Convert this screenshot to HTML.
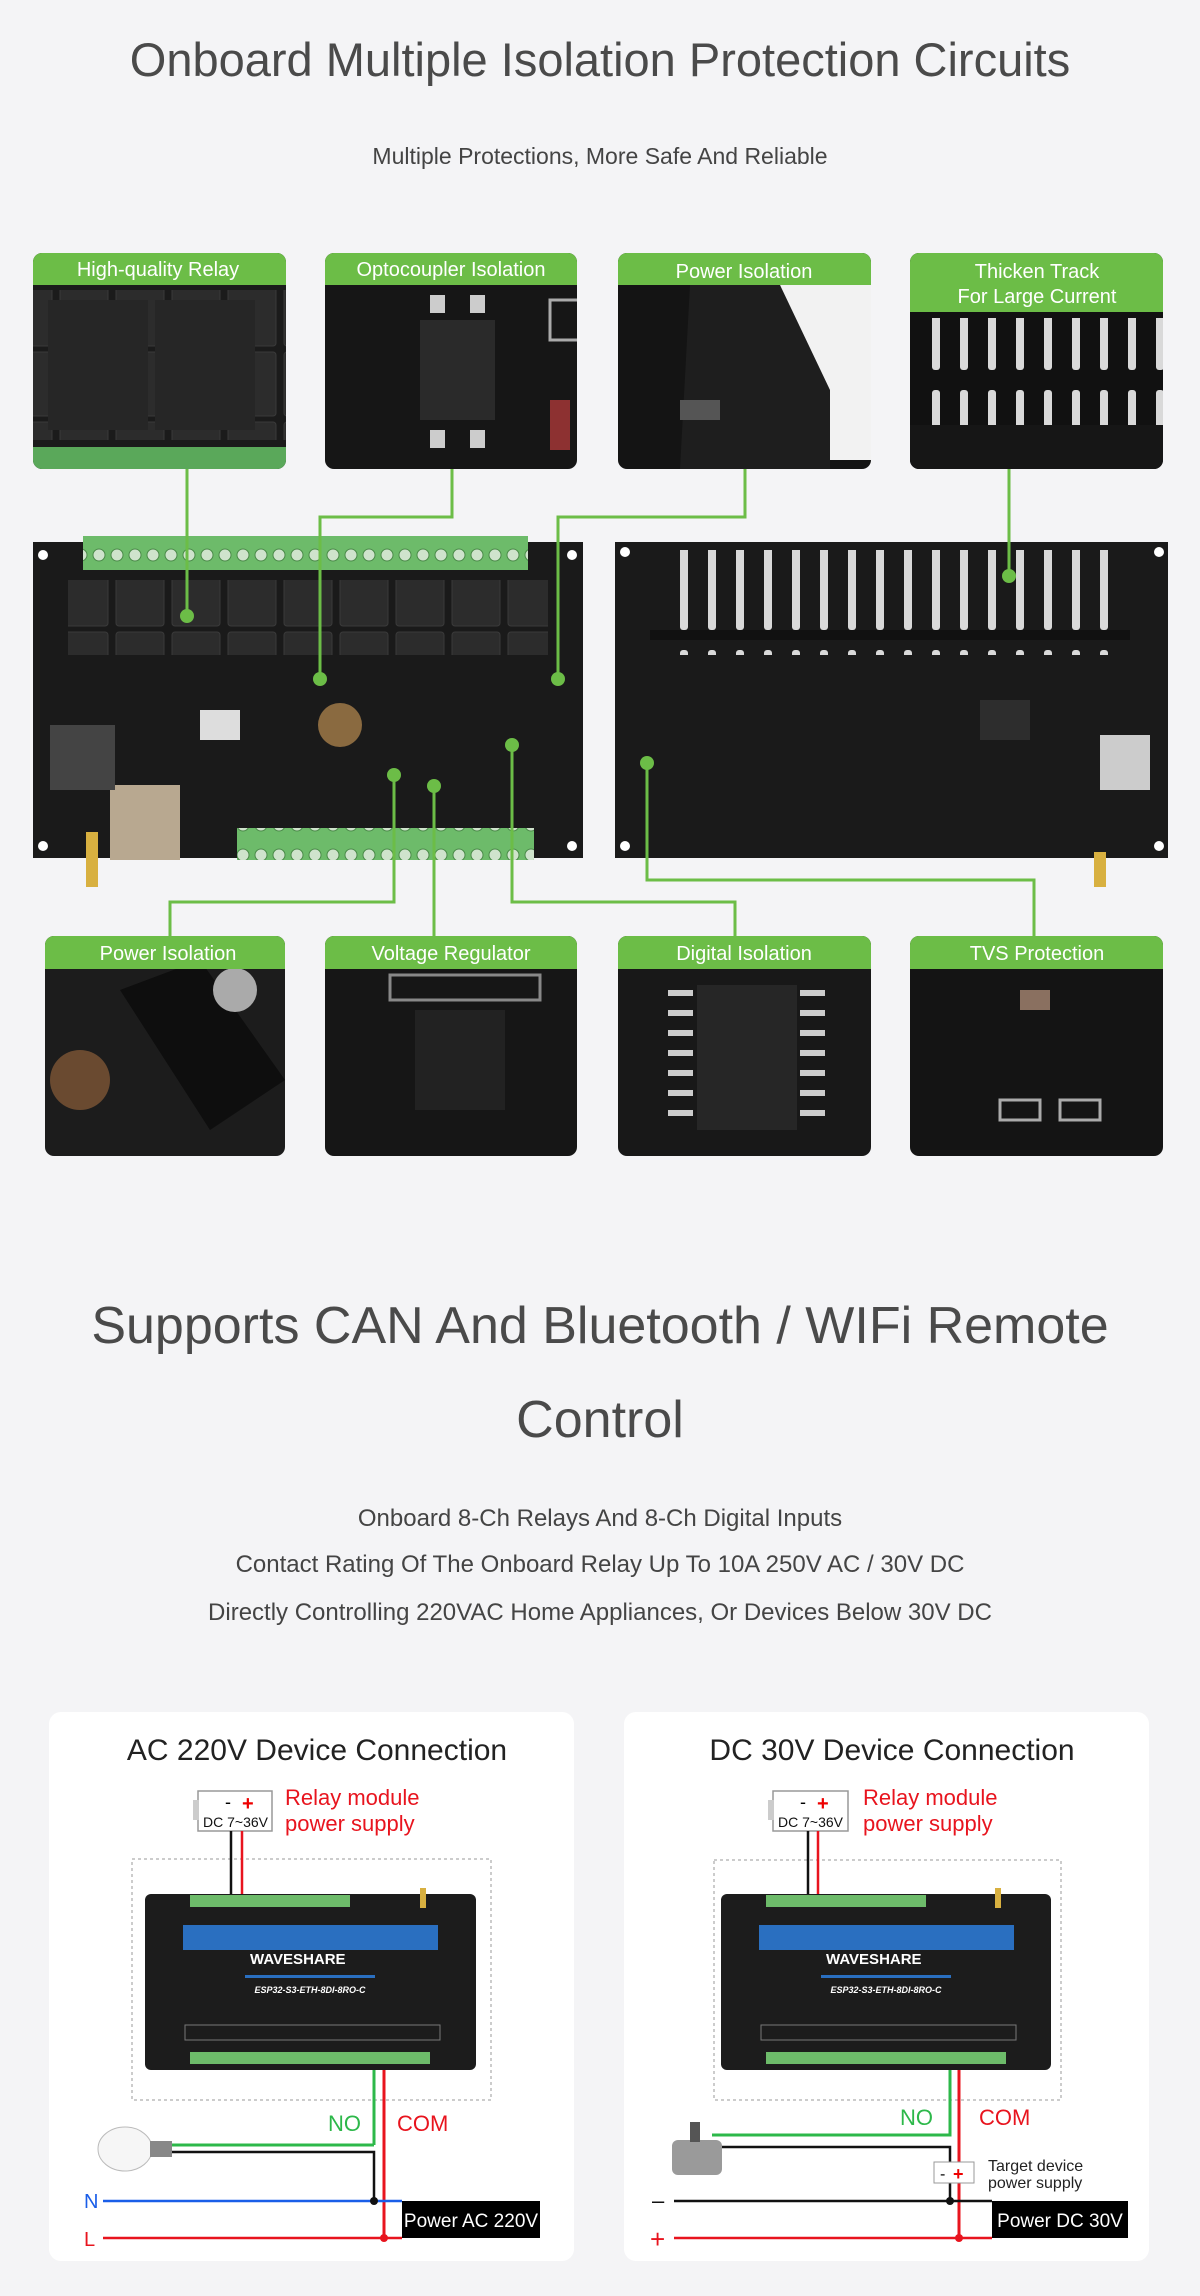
<!DOCTYPE html>
<html><head><meta charset="utf-8">
<style>
html,body{margin:0;padding:0;background:#f4f4f6;}
svg{display:block;}
text{font-family:"Liberation Sans",Arial,sans-serif;}
</style></head><body>
<svg width="1200" height="2296" viewBox="0 0 1200 2296" xmlns="http://www.w3.org/2000/svg">
<defs>
<clipPath id="c1"><rect x="33" y="253" width="253" height="216" rx="9"/></clipPath>
<clipPath id="c2"><rect x="325" y="253" width="252" height="216" rx="9"/></clipPath>
<clipPath id="c3"><rect x="618" y="253" width="253" height="216" rx="9"/></clipPath>
<clipPath id="c4"><rect x="910" y="253" width="253" height="216" rx="9"/></clipPath>
<clipPath id="d1"><rect x="45" y="936" width="240" height="220" rx="9"/></clipPath>
<clipPath id="d2"><rect x="325" y="936" width="252" height="220" rx="9"/></clipPath>
<clipPath id="d3"><rect x="618" y="936" width="253" height="220" rx="9"/></clipPath>
<clipPath id="d4"><rect x="910" y="936" width="253" height="220" rx="9"/></clipPath>
<pattern id="term" width="18" height="30" patternUnits="userSpaceOnUse"><rect width="18" height="30" fill="#6dbb6a"/><circle cx="9" cy="15" r="6" fill="#cfe3cc" stroke="#4a8a48"/></pattern>
<pattern id="track" width="28" height="130" patternUnits="userSpaceOnUse"><rect x="8" y="0" width="8" height="110" rx="3" fill="#d9d9d9"/></pattern>
<pattern id="relay" width="56" height="70" patternUnits="userSpaceOnUse"><rect x="4" y="2" width="48" height="64" rx="3" fill="#2c2c2c" stroke="#3a3a3a"/></pattern>
</defs>

<rect width="1200" height="2296" fill="#f4f4f6"/>

<text x="600" y="76" font-size="47" fill="#4a4a4a" text-anchor="middle">Onboard Multiple Isolation Protection Circuits</text>
<text x="600" y="164" font-size="23" fill="#444" text-anchor="middle">Multiple Protections, More Safe And Reliable</text>

<!-- top photo boxes -->
<g clip-path="url(#c1)"><rect x="33" y="253" width="253" height="216" fill="#1b1b1b"/>
<rect x="33" y="290" width="253" height="150" fill="url(#relay)"/><rect x="48" y="300" width="100" height="130" fill="#262626"/><rect x="155" y="300" width="100" height="130" fill="#262626"/>
<rect x="33" y="447" width="253" height="22" fill="#5aa85a"/></g>
<g clip-path="url(#c2)"><rect x="325" y="253" width="252" height="216" fill="#161616"/>
<rect x="420" y="320" width="75" height="100" fill="#2a2a2a"/><rect x="430" y="295" width="15" height="18" fill="#ccc"/><rect x="470" y="295" width="15" height="18" fill="#ccc"/><rect x="430" y="430" width="15" height="18" fill="#ccc"/><rect x="470" y="430" width="15" height="18" fill="#ccc"/>
<rect x="550" y="300" width="30" height="40" fill="none" stroke="#aaa" stroke-width="3"/><rect x="550" y="400" width="20" height="50" fill="#d44" opacity=".6"/></g>
<g clip-path="url(#c3)"><rect x="618" y="253" width="253" height="216" fill="#141414"/>
<polygon points="780,285 871,285 871,460 820,460" fill="#f2f2f2"/><polygon points="690,285 780,285 830,390 830,469 680,469" fill="#1e1e1e"/><rect x="680" y="400" width="40" height="20" fill="#555"/></g>
<g clip-path="url(#c4)"><rect x="910" y="253" width="253" height="216" fill="#111"/>
<rect x="914" y="318" width="250" height="110" fill="url(#track)"/><rect x="910" y="425" width="253" height="44" fill="#161616"/></g>
<g fill="#6cbd47">
<path d="M42,253 h235 a9,9 0 0 1 9,9 v23 h-253 v-23 a9,9 0 0 1 9,-9z"/>
<path d="M334,253 h234 a9,9 0 0 1 9,9 v23 h-252 v-23 a9,9 0 0 1 9,-9z"/>
<path d="M627,253 h235 a9,9 0 0 1 9,9 v23 h-253 v-23 a9,9 0 0 1 9,-9z"/>
<path d="M919,253 h235 a9,9 0 0 1 9,9 v50 h-253 v-50 a9,9 0 0 1 9,-9z"/>
</g>
<g font-size="20" fill="#fff" text-anchor="middle">
<text x="158" y="276">High-quality Relay</text>
<text x="451" y="276">Optocoupler Isolation</text>
<text x="744" y="278">Power Isolation</text>
<text x="1037" y="278">Thicken Track</text>
<text x="1037" y="303">For Large Current</text>
</g>

<!-- boards -->
<rect x="33" y="542" width="550" height="316" fill="#1a1a1a"/>
<rect x="83" y="536" width="445" height="34" fill="url(#term)"/>
<rect x="68" y="580" width="480" height="75" fill="url(#relay)"/>
<rect x="237" y="828" width="297" height="32" fill="url(#term)"/>
<rect x="110" y="785" width="70" height="75" fill="#b8a890"/>
<rect x="50" y="725" width="65" height="65" fill="#444"/>
<circle cx="340" cy="725" r="22" fill="#8a6a40"/>
<rect x="200" y="710" width="40" height="30" fill="#ddd"/>
<circle cx="43" cy="555" r="5" fill="#fff"/><circle cx="572" cy="555" r="5" fill="#fff"/><circle cx="43" cy="846" r="5" fill="#fff"/><circle cx="572" cy="846" r="5" fill="#fff"/>
<rect x="86" y="832" width="12" height="55" fill="#d8b040"/>

<rect x="615" y="542" width="553" height="316" fill="#1a1a1a"/>
<rect x="660" y="550" width="465" height="105" fill="url(#track)"/>
<rect x="650" y="630" width="480" height="10" fill="#111"/>
<rect x="1100" y="735" width="50" height="55" fill="#ccc"/>
<rect x="980" y="700" width="50" height="40" fill="#2d2d2d"/>
<circle cx="625" cy="552" r="5" fill="#fff"/><circle cx="1159" cy="552" r="5" fill="#fff"/><circle cx="625" cy="846" r="5" fill="#fff"/><circle cx="1159" cy="846" r="5" fill="#fff"/>
<rect x="1094" y="852" width="12" height="35" fill="#d8b040"/>

<!-- green connectors -->
<g stroke="#6cbd47" stroke-width="3" fill="none">
<path d="M187,469 V616"/>
<path d="M452,469 V517 H320 V679"/>
<path d="M745,469 V517 H558 V679"/>
<path d="M1009,469 V576"/>
<path d="M394,775 V902 H170 V936"/>
<path d="M434,786 V936"/>
<path d="M512,745 V902 H735 V936"/>
<path d="M647,763 V880 H1034 V936"/>
</g>
<g fill="#6cbd47"><circle cx="187" cy="616" r="7"/><circle cx="320" cy="679" r="7"/><circle cx="558" cy="679" r="7"/><circle cx="1009" cy="576" r="7"/><circle cx="394" cy="775" r="7"/><circle cx="434" cy="786" r="7"/><circle cx="512" cy="745" r="7"/><circle cx="647" cy="763" r="7"/></g>

<!-- bottom photo boxes -->
<g clip-path="url(#d1)"><rect x="45" y="936" width="240" height="220" fill="#1c1c1c"/><polygon points="120,990 200,960 285,1080 210,1130" fill="#0e0e0e"/><circle cx="80" cy="1080" r="30" fill="#6a4a30"/><circle cx="235" cy="990" r="22" fill="#aaa"/></g>
<g clip-path="url(#d2)"><rect x="325" y="936" width="252" height="220" fill="#161616"/><rect x="415" y="1010" width="90" height="100" fill="#222"/><rect x="390" y="975" width="150" height="25" fill="none" stroke="#888" stroke-width="3"/></g>
<g clip-path="url(#d3)"><rect x="618" y="936" width="253" height="220" fill="#181818"/><rect x="697" y="985" width="100" height="145" fill="#262626"/><g fill="#ccc"><rect x="668" y="990" width="25" height="6"/><rect x="668" y="1010" width="25" height="6"/><rect x="668" y="1030" width="25" height="6"/><rect x="668" y="1050" width="25" height="6"/><rect x="668" y="1070" width="25" height="6"/><rect x="668" y="1090" width="25" height="6"/><rect x="668" y="1110" width="25" height="6"/><rect x="800" y="990" width="25" height="6"/><rect x="800" y="1010" width="25" height="6"/><rect x="800" y="1030" width="25" height="6"/><rect x="800" y="1050" width="25" height="6"/><rect x="800" y="1070" width="25" height="6"/><rect x="800" y="1090" width="25" height="6"/><rect x="800" y="1110" width="25" height="6"/></g></g>
<g clip-path="url(#d4)"><rect x="910" y="936" width="253" height="220" fill="#141414"/><rect x="1020" y="990" width="30" height="20" fill="#8a7060"/><rect x="1000" y="1100" width="40" height="20" fill="none" stroke="#aaa" stroke-width="3"/><rect x="1060" y="1100" width="40" height="20" fill="none" stroke="#aaa" stroke-width="3"/></g>
<g fill="#6cbd47">
<path d="M54,936 h222 a9,9 0 0 1 9,9 v24 h-240 v-24 a9,9 0 0 1 9,-9z"/>
<path d="M334,936 h234 a9,9 0 0 1 9,9 v24 h-252 v-24 a9,9 0 0 1 9,-9z"/>
<path d="M627,936 h235 a9,9 0 0 1 9,9 v24 h-253 v-24 a9,9 0 0 1 9,-9z"/>
<path d="M919,936 h235 a9,9 0 0 1 9,9 v24 h-253 v-24 a9,9 0 0 1 9,-9z"/>
</g>
<g font-size="20" fill="#fff" text-anchor="middle">
<text x="168" y="960">Power Isolation</text>
<text x="451" y="960">Voltage Regulator</text>
<text x="744" y="960">Digital Isolation</text>
<text x="1037" y="960">TVS Protection</text>
</g>

<!-- second section -->
<text x="600" y="1343" font-size="52" fill="#4a4a4a" text-anchor="middle">Supports CAN And Bluetooth / WIFi Remote</text>
<text x="600" y="1437" font-size="52" fill="#4a4a4a" text-anchor="middle">Control</text>
<g font-size="24" fill="#444" text-anchor="middle">
<text x="600" y="1526">Onboard 8-Ch Relays And 8-Ch Digital Inputs</text>
<text x="600" y="1572">Contact Rating Of The Onboard Relay Up To 10A 250V AC / 30V DC</text>
<text x="600" y="1620">Directly Controlling 220VAC Home Appliances, Or Devices Below 30V DC</text>
</g>

<!-- cards -->
<rect x="49" y="1712" width="525" height="549" rx="12" fill="#fff"/>
<rect x="624" y="1712" width="525" height="549" rx="12" fill="#fff"/>
<text x="317" y="1760" font-size="30" fill="#222" text-anchor="middle">AC 220V Device Connection</text>
<text x="892" y="1760" font-size="30" fill="#222" text-anchor="middle">DC 30V Device Connection</text>

<!-- LEFT diagram -->
<g>
<rect x="198" y="1791" width="74" height="40" fill="#fff" stroke="#999" stroke-width="1.5"/><rect x="193" y="1800" width="6" height="20" fill="#ccc"/>
<text x="225" y="1808" font-size="18" fill="#000">-</text><text x="242" y="1810" font-size="20" fill="#e00" font-weight="bold">+</text>
<text x="203" y="1827" font-size="14" fill="#111">DC 7~36V</text>
<text x="285" y="1805" font-size="22" fill="#e8141e">Relay module</text>
<text x="285" y="1831" font-size="22" fill="#e8141e">power supply</text>
<rect x="132" y="1859" width="359" height="241" fill="none" stroke="#999" stroke-dasharray="3,3"/>
<line x1="231" y1="1831" x2="231" y2="1895" stroke="#111" stroke-width="2.5"/>
<line x1="242" y1="1831" x2="242" y2="1895" stroke="#e8141e" stroke-width="2.5"/>
<rect x="145" y="1894" width="331" height="176" rx="6" fill="#1c1c1c"/>
<rect x="190" y="1895" width="160" height="12" fill="#6dbb6a"/>
<rect x="183" y="1925" width="255" height="25" fill="#2a6fc0"/>
<rect x="190" y="2052" width="240" height="12" fill="#6dbb6a"/>
<rect x="185" y="2025" width="255" height="15" fill="none" stroke="#777"/>
<text x="250" y="1964" font-size="15" fill="#fff" font-weight="bold">WAVESHARE</text>
<rect x="245" y="1975" width="130" height="3" fill="#2a6fc0"/>
<text x="310" y="1993" font-size="9" fill="#fff" text-anchor="middle" font-style="italic" font-weight="bold">ESP32-S3-ETH-8DI-8RO-C</text>
<rect x="420" y="1888" width="6" height="20" fill="#d8b040"/>
<line x1="374" y1="2070" x2="374" y2="2145" stroke="#2db84a" stroke-width="3"/>
<line x1="374" y1="2145" x2="172" y2="2145" stroke="#2db84a" stroke-width="3"/>
<polyline points="172,2152 374,2152 374,2201" fill="none" stroke="#111" stroke-width="2.5"/>
<line x1="384" y1="2070" x2="384" y2="2238" stroke="#e8141e" stroke-width="3"/>
<line x1="103" y1="2201" x2="402" y2="2201" stroke="#1a5ee8" stroke-width="2.5"/>
<line x1="103" y1="2238" x2="402" y2="2238" stroke="#e8141e" stroke-width="2.5"/>
<circle cx="374" cy="2201" r="4" fill="#111"/><circle cx="384" cy="2238" r="4" fill="#e8141e"/>
<rect x="402" y="2201" width="138" height="37" fill="#000"/>
<text x="471" y="2227" font-size="19" fill="#fff" text-anchor="middle">Power AC 220V</text>
<text x="84" y="2208" font-size="20" fill="#1a5ee8">N</text>
<text x="84" y="2246" font-size="20" fill="#e8141e">L</text>
<text x="328" y="2131" font-size="22" fill="#2db84a">NO</text>
<text x="397" y="2131" font-size="22" fill="#e8141e">COM</text>
<ellipse cx="125" cy="2149" rx="27" ry="22" fill="#f6f6f6" stroke="#bbb"/>
<rect x="150" y="2141" width="22" height="16" fill="#888"/>
</g>

<!-- RIGHT diagram -->
<g>
<rect x="773" y="1791" width="75" height="40" fill="#fff" stroke="#999" stroke-width="1.5"/><rect x="768" y="1800" width="6" height="20" fill="#ccc"/>
<text x="800" y="1808" font-size="18" fill="#000">-</text><text x="817" y="1810" font-size="20" fill="#e00" font-weight="bold">+</text>
<text x="778" y="1827" font-size="14" fill="#111">DC 7~36V</text>
<text x="863" y="1805" font-size="22" fill="#e8141e">Relay module</text>
<text x="863" y="1831" font-size="22" fill="#e8141e">power supply</text>
<rect x="714" y="1860" width="347" height="240" fill="none" stroke="#999" stroke-dasharray="3,3"/>
<line x1="808" y1="1831" x2="808" y2="1895" stroke="#111" stroke-width="2.5"/>
<line x1="818" y1="1831" x2="818" y2="1895" stroke="#e8141e" stroke-width="2.5"/>
<rect x="721" y="1894" width="330" height="176" rx="6" fill="#1c1c1c"/>
<rect x="766" y="1895" width="160" height="12" fill="#6dbb6a"/>
<rect x="759" y="1925" width="255" height="25" fill="#2a6fc0"/>
<rect x="766" y="2052" width="240" height="12" fill="#6dbb6a"/>
<rect x="761" y="2025" width="255" height="15" fill="none" stroke="#777"/>
<text x="826" y="1964" font-size="15" fill="#fff" font-weight="bold">WAVESHARE</text>
<rect x="821" y="1975" width="130" height="3" fill="#2a6fc0"/>
<text x="886" y="1993" font-size="9" fill="#fff" text-anchor="middle" font-style="italic" font-weight="bold">ESP32-S3-ETH-8DI-8RO-C</text>
<rect x="995" y="1888" width="6" height="20" fill="#d8b040"/>
<polyline points="950,2070 950,2135 712,2135" fill="none" stroke="#2db84a" stroke-width="3"/>
<polyline points="712,2147 950,2147 950,2201" fill="none" stroke="#111" stroke-width="2.5"/>
<line x1="959" y1="2070" x2="959" y2="2238" stroke="#e8141e" stroke-width="3"/>
<rect x="934" y="2162" width="40" height="21" fill="#fff" stroke="#999"/>
<text x="940" y="2179" font-size="16" fill="#000">-</text><text x="953" y="2180" font-size="18" fill="#e00" font-weight="bold">+</text>
<text x="988" y="2171" font-size="16" fill="#222">Target device</text>
<text x="988" y="2188" font-size="16" fill="#222">power supply</text>
<line x1="674" y1="2201" x2="992" y2="2201" stroke="#111" stroke-width="2.5"/>
<line x1="674" y1="2238" x2="992" y2="2238" stroke="#e8141e" stroke-width="2.5"/>
<circle cx="950" cy="2201" r="4" fill="#111"/><circle cx="959" cy="2238" r="4" fill="#e8141e"/>
<rect x="992" y="2201" width="136" height="37" fill="#000"/>
<text x="1060" y="2227" font-size="19" fill="#fff" text-anchor="middle">Power DC 30V</text>
<text x="652" y="2208" font-size="22" fill="#111">–</text>
<text x="650" y="2248" font-size="26" fill="#e8141e">+</text>
<text x="900" y="2125" font-size="22" fill="#2db84a">NO</text>
<text x="979" y="2125" font-size="22" fill="#e8141e">COM</text>
<rect x="672" y="2140" width="50" height="35" rx="6" fill="#9a9a9a"/><rect x="690" y="2122" width="10" height="20" fill="#555"/>
</g>
</svg>
</body></html>
